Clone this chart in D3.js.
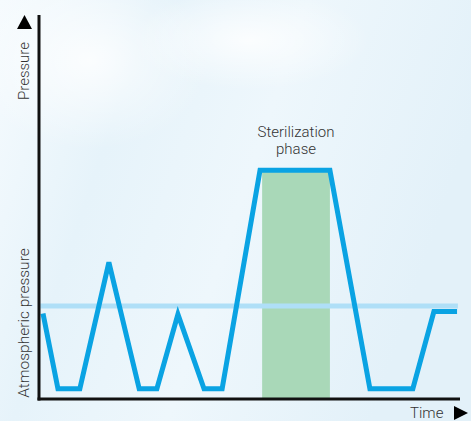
<!DOCTYPE html>
<html><head><meta charset="utf-8">
<script src="https://cdn.jsdelivr.net/npm/d3@7"></script>
<style>body{margin:0;background:#fff}svg{display:block}</style>
</head><body>
<script>
// Data (arbitrary units: time 0-100, pressure where atmospheric = 1)
const cycleTime     = [0.95, 4.5, 9.7, 16.6, 23.8, 28, 33, 39.2, 43.5, 52.5, 69.1, 78.6, 88.8, 93.8, 99.3];
const cyclePressure = [0.92, 0.11, 0.11, 1.47, 0.11, 0.11, 0.91, 0.11, 0.11, 2.46, 2.46, 0.11, 0.11, 0.94, 0.94];
const atmospheric = 1;
const sterilization = [53, 69.1];
const labels = {y: "Pressure", atm: "Atmospheric pressure", x: "Time", phase: ["Sterilization", "phase"]};

const W = 471, H = 421;
const svg = d3.select("body").append("svg").attr("width", W).attr("height", H);
const defs = svg.append("defs");
const bg = defs.append("linearGradient").attr("id","bg").attr("x1","0").attr("y1","0").attr("x2","1").attr("y2","0.3");
bg.append("stop").attr("offset","0").attr("stop-color","#f6fbfe");
bg.append("stop").attr("offset","0.3").attr("stop-color","#e6f3fa");
bg.append("stop").attr("offset","0.6").attr("stop-color","#eef7fc");
bg.append("stop").attr("offset","1").attr("stop-color","#e3f1f9");
svg.append("rect").attr("width",W).attr("height",H).attr("fill","url(#bg)");
const rg = defs.append("radialGradient").attr("id","blob");
rg.append("stop").attr("offset","0").attr("stop-color","#ffffff").attr("stop-opacity",0.8);
rg.append("stop").attr("offset","1").attr("stop-color","#ffffff").attr("stop-opacity",0);
svg.append("ellipse").attr("cx",90).attr("cy",60).attr("rx",120).attr("ry",90).attr("fill","url(#blob)");
svg.append("ellipse").attr("cx",250).attr("cy",40).attr("rx",120).attr("ry",50).attr("fill","url(#blob)");

const x = d3.scaleLinear().domain([0,100]).range([39,460]);
const y = d3.scaleLinear().domain([0,4.13]).range([399,15]);

// sterilization phase
svg.append("rect")
  .attr("x", x(sterilization[0])).attr("width", x(sterilization[1]) - x(sterilization[0]))
  .attr("y", y(2.46)).attr("height", y(0) - y(2.46))
  .attr("fill", "#a9d8b8");

// atmospheric line
svg.append("line").attr("x1", x(0.3)).attr("x2", x(99.5))
  .attr("y1", y(atmospheric)).attr("y2", y(atmospheric))
  .attr("stroke", "#afdff7").attr("stroke-width", 5);

// cycle line
const pts = cycleTime.map((t,i)=>[t, cyclePressure[i]]);
svg.append("path").datum(pts)
  .attr("d", d3.line().x(d=>x(d[0])).y(d=>y(d[1])))
  .attr("fill","none").attr("stroke","#0aa3e3").attr("stroke-width",5)
  .attr("stroke-linejoin","miter");

// axes
svg.append("line").attr("x1", x(0)).attr("x2", x(0)).attr("y1", y(4.13)).attr("y2", y(0)+1.5)
  .attr("stroke","#111").attr("stroke-width",3);
svg.append("line").attr("x1", x(0)-1.5).attr("x2", x(100)).attr("y1", y(0)).attr("y2", y(0))
  .attr("stroke","#111").attr("stroke-width",3);

const font = "Roboto, 'Noto Sans', sans-serif";
const fs = 15;
// y label + arrow
svg.append("text").attr("transform","translate(29,100) rotate(-90)")
  .attr("font-family",font).attr("font-size",fs).attr("font-weight",300).attr("fill","#333")
  .text(labels.y);
svg.append("path").attr("d","M17,29 L32,29 L24.5,15 Z").attr("fill","#000");
svg.append("text").attr("transform","translate(29,323) rotate(-90)")
  .attr("text-anchor","middle")
  .attr("font-family",font).attr("font-size",fs+0.5).attr("font-weight",300).attr("fill","#333")
  .text(labels.atm);
// x label + arrow
svg.append("text").attr("x",410).attr("y",417.5)
  .attr("font-family",font).attr("font-size",fs).attr("font-weight",300).attr("fill","#333")
  .text(labels.x);
svg.append("path").attr("d","M454,406 L454,420 L468,413 Z").attr("fill","#000");
// phase label
svg.selectAll("text.phase").data(labels.phase).join("text").attr("class","phase")
  .attr("x",(x(sterilization[0])+x(sterilization[1]))/2).attr("y",(d,i)=>137+i*17)
  .attr("text-anchor","middle")
  .attr("font-family",font).attr("font-size",fs).attr("font-weight",300).attr("fill","#333")
  .text(d=>d);
</script>
</body></html>
